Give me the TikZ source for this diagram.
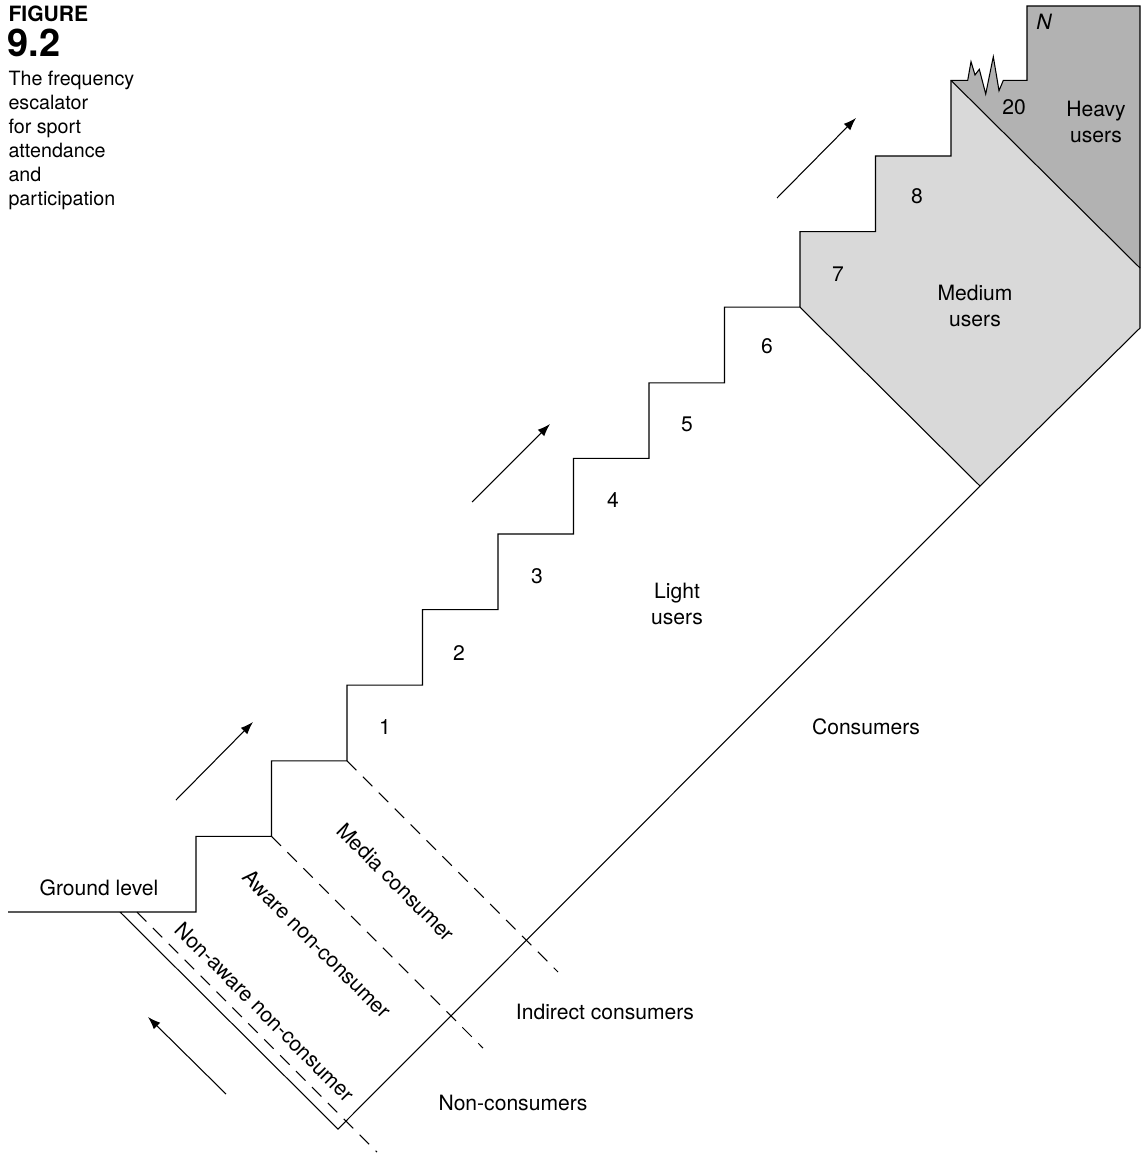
\documentclass[tikz,border=0pt]{standalone}
\usepackage{fontspec}
\setmainfont{TeX Gyre Heros}
\usetikzlibrary{arrows.meta}
\definecolor{mediumfill}{gray}{0.85}
\definecolor{heavyfill}{gray}{0.70}

\begin{document}
\begin{tikzpicture}[x=0.025cm,y=-0.025cm,line width=0.75pt,
  lbl/.style={font=\fontsize{15}{18}\selectfont,align=center,inner sep=0pt},
  lowline/.style={dash pattern=on 9.5pt off 6.5pt},
  moveup/.style={-{Latex[length=9pt,width=6.5pt]}}]
\useasboundingbox (0,0) rectangle (1148,1156);

% corners of the steps
\coordinate (ground) at (8,912);
\coordinate (st0) at (196,912);
\coordinate (st1) at (271.5,836.4);
\coordinate (st2) at (347,760.8);
\coordinate (st8) at (800,307.2);
\coordinate (st11) at (951,80.4);
\coordinate (bottom) at (338,1129);
\coordinate (apex) at (980,486);
\coordinate (rtop) at (1140,6);
\coordinate (rmid) at (1140,268);
\coordinate (rlow) at (1140,328);

% shaded regions
\fill[mediumfill] (st8) -- (800,231.6) -- (875.5,231.6) -- (875.5,156) -- (951,156)
  -- (st11) -- (rmid) -- (rlow) -- (apex) -- cycle;
\fill[heavyfill] (st11) -- (967.7,80.4) -- (971,61.7) -- (975,75) -- (979.3,69.3)
  -- (985.7,94) -- (993.3,56.7) -- (999,90.7) -- (1003.3,80.4) -- (1027,80.4)
  -- (1027,6) -- (rtop) -- (rmid) -- cycle;

% the escalator
\draw (ground) -- (st0) -- (196,836.4) -- (st1) -- (271.5,760.8) -- (st2)
  -- (347,685.2) -- (422.5,685.2) -- (422.5,609.6) -- (498,609.6)
  -- (498,534) -- (573.5,534) -- (573.5,458.4) -- (649,458.4)
  -- (649,382.8) -- (724.5,382.8) -- (724.5,307.2) -- (st8)
  -- (800,231.6) -- (875.5,231.6) -- (875.5,156) -- (951,156) -- (st11)
  -- (967.7,80.4) -- (971,61.7) -- (975,75) -- (979.3,69.3)
  -- (985.7,94) -- (993.3,56.7) -- (999,90.7) -- (1003.3,80.4) -- (1027,80.4)
  -- (1027,6) -- (rtop) -- (rlow) -- (apex) -- (bottom) -- (120,912);
\draw (st8) -- (apex);
\draw (st11) -- (rmid);

% dividing lines
\draw[lowline] (st2) -- (558,972);
\draw[lowline] (st1) -- (483,1048);
\draw[lowline] (137,912) -- (377,1152);

% direction of movement
\draw[moveup] (226,1094) -- (148,1017);
\draw[moveup] (176,800) -- (253,722);
\draw[moveup] (472,502) -- (550,424);
\draw[moveup] (777,198) -- (856,118);

% step numbers
\node[lbl] (n1) at (385,727) {1};
\node[lbl] (n2) at (459,653) {2};
\node[lbl] (n3) at (537,576) {3};
\node[lbl] (n4) at (613,500) {4};
\node[lbl] (n5) at (687,424) {5};
\node[lbl] (n6) at (767,346) {6};
\node[lbl] (n7) at (838,274) {7};
\node[lbl] (n8) at (917,196) {8};
\node[lbl] (n20) at (1014,107) {20};
\node[lbl] (nN) at (1044,22) {\itshape N};

% groups
\node[lbl] (grnd) at (99,888) {Ground level};
\node[lbl] (light) at (677,604) {Light\\users};
\node[lbl] (medium) at (975,306) {Medium\\users};
\node[lbl] (heavy) at (1096,122) {Heavy\\users};
\node[lbl] (cons) at (866,727) {Consumers};
\node[lbl] (indir) at (605,1012) {Indirect consumers};
\node[lbl] (noncons) at (513,1103) {Non-consumers};
\node[lbl,rotate=-45] (media) at (396,882) {Media consumer};
\node[lbl,rotate=-45] (aware) at (317,944) {Aware non-consumer};
\node[lbl,rotate=-45] (nonaware) at (265,1012) {Non-aware non-consumer};

% caption
\node[anchor=north west,inner sep=0pt,font=\fontsize{15}{15}\selectfont\bfseries] (fig) at (8,5) {FIGURE};
\node[anchor=north west,inner sep=0pt,font=\fontsize{27}{27}\selectfont\bfseries] (fignum) at (7,28) {9.2};
\node[anchor=north west,inner sep=0pt,align=left,font=\fontsize{14}{17}\selectfont] (title) at (8,71)
  {The frequency\\escalator\\for sport\\attendance\\and\\participation};
\end{tikzpicture}
\end{document}
